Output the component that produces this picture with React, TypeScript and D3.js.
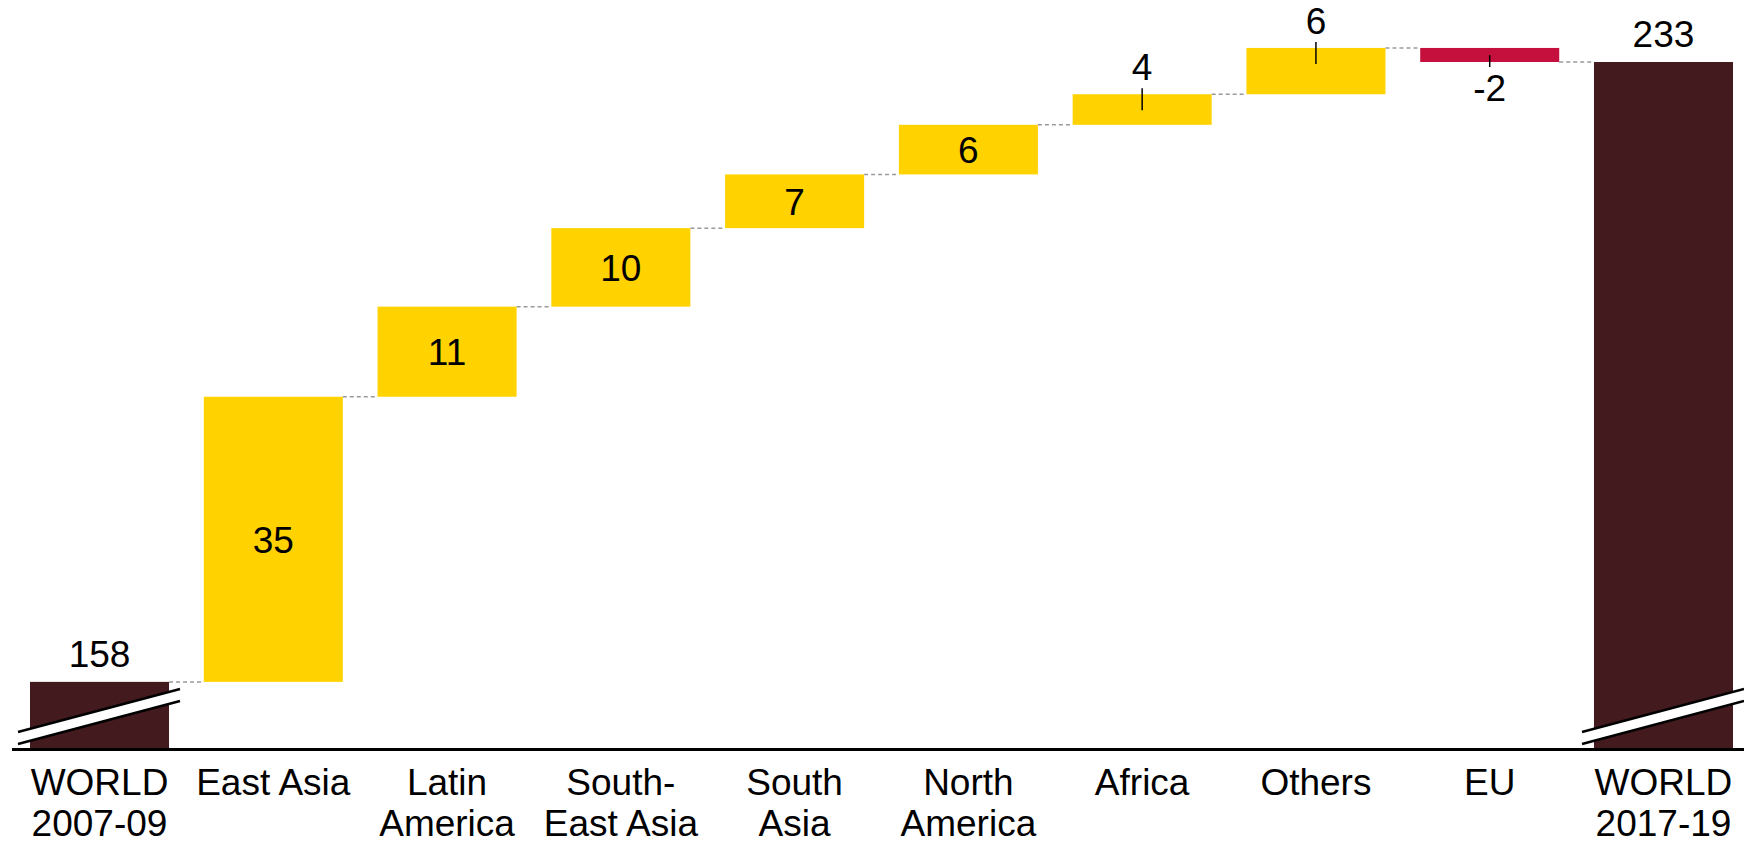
import React from "react";
import * as d3 from "d3";

const categories = [
  "WORLD\n2007-09",
  "East Asia",
  "Latin\nAmerica",
  "South-\nEast Asia",
  "South\nAsia",
  "North\nAmerica",
  "Africa",
  "Others",
  "EU",
  "WORLD\n2017-19",
];
const startTotal = 158;
const endTotal = 233;
const changes = [34.5, 10.9, 9.5, 6.5, 6.0, 3.7, 5.6, -1.7];
const valueLabels = ["158", "35", "11", "10", "7", "6", "4", "6", "-2", "233"];
const outsideLabelCats = ["Africa", "Others", "EU"];
const axisMin = 150;

const W = 1744;
const H = 845;
const BROWN = "#431a1d";
const YELLOW = "#ffd200";
const RED = "#c50f3c";
const FONT = "'Liberation Sans', Arial, sans-serif";
const FS = 37;

export default function App() {
  const x = d3.scaleBand<string>().domain(categories).range([30, 1733]).paddingInner(0.2).paddingOuter(0);
  const y = d3.scaleLinear().domain([axisMin, endTotal]).range([748, 62]);
  const bw = x.bandwidth();

  type Bar = { cat: string; y0: number; y1: number; kind: "total" | "up" | "down"; label: string };
  const bars: Bar[] = [];
  bars.push({ cat: categories[0], y0: axisMin, y1: startTotal, kind: "total", label: valueLabels[0] });
  let run = startTotal;
  changes.forEach((c, i) => {
    bars.push({ cat: categories[i + 1], y0: run, y1: run + c, kind: c >= 0 ? "up" : "down", label: valueLabels[i + 1] });
    run += c;
  });
  bars.push({ cat: categories[9], y0: axisMin, y1: endTotal, kind: "total", label: valueLabels[9] });

  const fillOf = (b: Bar) => (b.kind === "total" ? BROWN : b.kind === "up" ? YELLOW : RED);
  const baseY = y(axisMin);

  return (
    <svg width={W} height={H} style={{ position: "absolute", left: 0, top: 0, background: "#fff" }} fontFamily={FONT}>
      {/* connectors */}
      {bars.slice(0, -1).map((b, i) => {
        const next = bars[i + 1];
        const xs = (x(b.cat) as number) + bw;
        const xe = x(next.cat) as number;
        return (
          <line key={"c" + i} x1={xs} x2={xe} y1={y(b.y1)} y2={y(b.y1)} stroke="#9a9a9a" strokeWidth={1.5} strokeDasharray="4,3" />
        );
      })}
      {/* bars */}
      {bars.map((b, i) => {
        const top = y(Math.max(b.y0, b.y1));
        const bot = y(Math.min(b.y0, b.y1));
        return <rect key={"b" + i} x={x(b.cat)} y={top} width={bw} height={bot - top} fill={fillOf(b)} />;
      })}
      {/* break marks on total bars */}
      {bars
        .filter((b) => b.kind === "total")
        .map((b, i) => {
          const x0 = (x(b.cat) as number) - 12;
          const x1 = (x(b.cat) as number) + bw + 11;
          const pts = [
            [x0, baseY - 16],
            [x1, baseY - 59],
            [x1, baseY - 47],
            [x0, baseY - 4],
          ];
          return (
            <g key={"br" + i}>
              <polygon points={pts.map((p) => p.join(",")).join(" ")} fill="#fff" />
              <line x1={pts[0][0]} y1={pts[0][1]} x2={pts[1][0]} y2={pts[1][1]} stroke="#000" strokeWidth={2.5} />
              <line x1={pts[3][0]} y1={pts[3][1]} x2={pts[2][0]} y2={pts[2][1]} stroke="#000" strokeWidth={2.5} />
            </g>
          );
        })}
      {/* baseline */}
      <line x1={12} x2={W} y1={749.5} y2={749.5} stroke="#000" strokeWidth={3} />
      {/* value labels */}
      {bars.map((b, i) => {
        const cx = (x(b.cat) as number) + bw / 2;
        const top = y(Math.max(b.y0, b.y1));
        const bot = y(Math.min(b.y0, b.y1));
        if (b.kind === "total") {
          return (
            <text key={"v" + i} x={cx} y={top - 15} textAnchor="middle" fontSize={FS} fill="#000">
              {b.label}
            </text>
          );
        }
        if (outsideLabelCats.includes(b.cat)) {
          if (b.kind === "down") {
            return (
              <g key={"v" + i}>
                <line x1={cx} x2={cx} y1={bot - 7} y2={bot + 5} stroke="#000" strokeWidth={1.5} />
                <text x={cx} y={bot + 39} textAnchor="middle" fontSize={FS} fill="#000">
                  {b.label}
                </text>
              </g>
            );
          }
          return (
            <g key={"v" + i}>
              <line x1={cx} x2={cx} y1={top - 6} y2={top + 16} stroke="#000" strokeWidth={1.5} />
              <text x={cx} y={top - 14} textAnchor="middle" fontSize={FS} fill="#000">
                {b.label}
              </text>
            </g>
          );
        }
        return (
          <text key={"v" + i} x={cx} y={(top + bot) / 2} dy="0.36em" textAnchor="middle" fontSize={FS} fill="#000">
            {b.label}
          </text>
        );
      })}
      {/* category labels */}
      {categories.map((c, i) => {
        const cx = (x(c) as number) + bw / 2;
        return (
          <text key={"k" + i} x={cx} y={795} textAnchor="middle" fontSize={FS} fill="#000">
            {c.split("\n").map((line, j) => (
              <tspan key={j} x={cx} y={795 + j * 41}>
                {line}
              </tspan>
            ))}
          </text>
        );
      })}
    </svg>
  );
}
